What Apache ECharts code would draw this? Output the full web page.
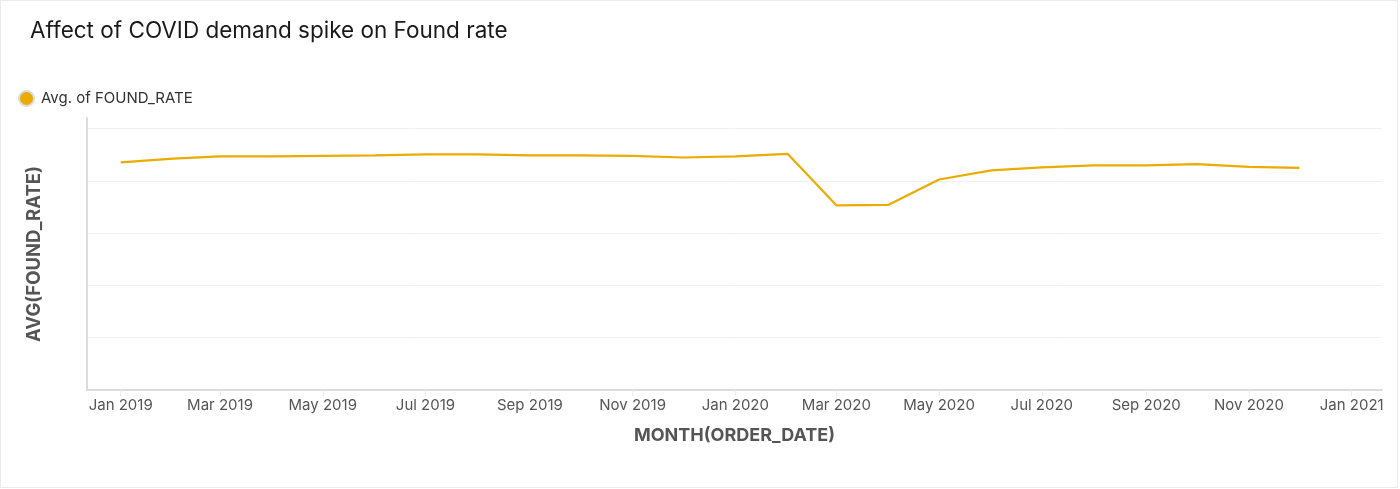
<!DOCTYPE html>
<html>
<head>
<meta charset="utf-8">
<script src="https://cdn.jsdelivr.net/npm/echarts@6/dist/echarts.min.js"></script>
<style>
  html, body { margin: 0; padding: 0; background: #fff; }
  #chart { width: 1398px; height: 488px; box-sizing: border-box; border: 1px solid #ebebeb; }
</style>
</head>
<body>
<div id="chart"></div>
<script>
const months = ['2019-01-01','2019-02-01','2019-03-01','2019-04-01','2019-05-01','2019-06-01',
  '2019-07-01','2019-08-01','2019-09-01','2019-10-01','2019-11-01','2019-12-01',
  '2020-01-01','2020-02-01','2020-03-01','2020-04-01','2020-05-01','2020-06-01',
  '2020-07-01','2020-08-01','2020-09-01','2020-10-01','2020-11-01','2020-12-01'];
const foundRate = [0.870, 0.885, 0.893, 0.893, 0.895, 0.897,
  0.901, 0.901, 0.897, 0.897, 0.895, 0.889,
  0.893, 0.903, 0.706, 0.708, 0.805, 0.840,
  0.851, 0.859, 0.859, 0.864, 0.853, 0.849];
const tickDates = ['2019-01-01','2019-03-01','2019-05-01','2019-07-01','2019-09-01','2019-11-01',
  '2020-01-01','2020-03-01','2020-05-01','2020-07-01','2020-09-01','2020-11-01','2021-01-01'];
const monthNames = ['Jan','Feb','Mar','Apr','May','Jun','Jul','Aug','Sep','Oct','Nov','Dec'];

const toTs = s => { const [y,m,d] = s.split('-').map(Number); return Date.UTC(y, m-1, d); };
const fmt = v => { const d = new Date(v); return monthNames[d.getUTCMonth()] + ' ' + d.getUTCFullYear(); };

const chart = echarts.init(document.getElementById('chart'));
chart.setOption({
  animation: false,
  title: {
    text: 'Affect of COVID demand spike on Found rate',
    left: 29, top: 19, padding: 0,
    textStyle: { fontFamily: 'Inter', fontSize: 22.5, fontWeight: 'normal', color: '#1a1a1a' }
  },
  legend: {
    left: 17, top: 89, padding: 0,
    icon: 'circle', itemWidth: 15, itemHeight: 15, itemGap: 10,
    itemStyle: { borderColor: '#dcdcdc', borderWidth: 2 },
    textStyle: { fontFamily: 'Inter', fontSize: 15, color: '#333', padding: [0, 0, 0, 2] },
    data: ['Avg. of FOUND_RATE']
  },
  grid: { left: 86, right: 15, top: 117, bottom: 97 },
  xAxis: {
    type: 'value',
    min: toTs('2018-12-12'),
    max: toTs('2021-01-19'),
    name: 'MONTH(ORDER_DATE)',
    nameLocation: 'middle',
    nameGap: 37,
    nameTextStyle: { fontFamily: 'Inter', fontSize: 18, fontWeight: 'bold', color: '#555' },
    axisLine: { show: true, lineStyle: { color: '#dcdcdc', width: 2 } },
    axisTick: { show: true, customValues: tickDates.map(toTs), length: 6, lineStyle: { color: '#ececec' } },
    axisLabel: {
      customValues: tickDates.map(toTs),
      formatter: v => fmt(v),
      fontFamily: 'Inter', fontSize: 15, color: '#555', margin: 8
    },
    splitLine: { show: false }
  },
  yAxis: {
    type: 'value',
    min: 0, max: 1.04, interval: 0.2,
    name: 'AVG(FOUND_RATE)',
    nameLocation: 'middle',
    nameGap: 43,
    nameTextStyle: { fontFamily: 'Inter', fontSize: 18.5, fontWeight: 'bold', color: '#555' },
    axisLine: { show: true, lineStyle: { color: '#dcdcdc', width: 2 } },
    axisTick: { show: false },
    axisLabel: { show: false },
    splitLine: { show: true, showMinLine: false, showMaxLine: false, lineStyle: { color: '#f0f0f0', width: 1 } }
  },
  series: [{
    name: 'Avg. of FOUND_RATE',
    type: 'line',
    showSymbol: false,
    symbol: 'circle',
    itemStyle: { color: '#EBAB00' },
    lineStyle: { color: '#EBAB00', width: 2.2 },
    data: months.map((m, i) => [toTs(m), foundRate[i]])
  }]
});
</script>
</body>
</html>
